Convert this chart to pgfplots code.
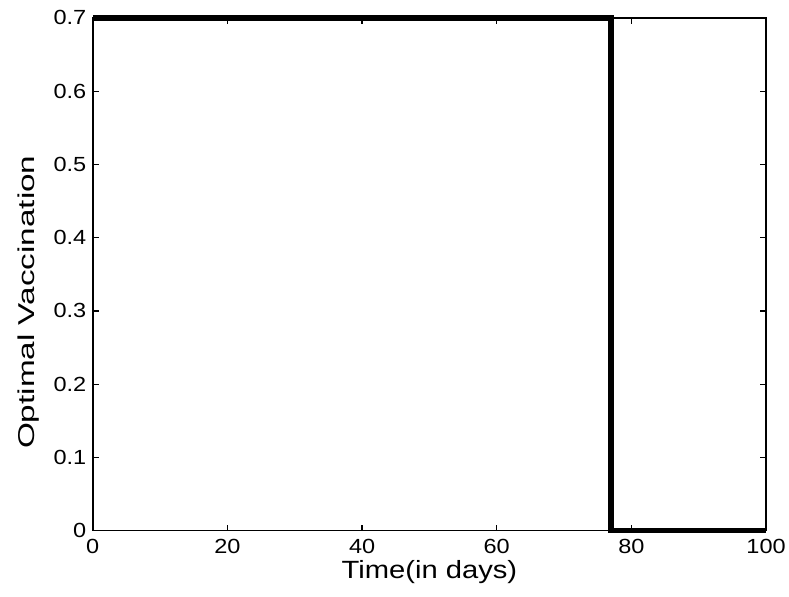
\documentclass[border=0pt]{standalone}
\usepackage{graphicx}
\usepackage{pgfplots}
\pgfplotsset{compat=1.18}
\usepackage{fontspec}
\setmainfont{Liberation Sans}
\newcommand\sx[1]{\scalebox{1.15}[1]{#1}}
\begin{document}
\begin{tikzpicture}
\begin{axis}[
  scale only axis, width=675pt, height=514pt,
  xmin=0, xmax=100, ymin=0, ymax=0.7,
  xtick={0,20,40,60,80,100},
  xticklabels={\sx{0},\sx{20},\sx{40},\sx{60},\sx{80},\sx{100}},
  ytick={0,0.1,0.2,0.3,0.4,0.5,0.6,0.7},
  yticklabels={\sx{0},\sx{0.1},\sx{0.2},\sx{0.3},\sx{0.4},\sx{0.5},\sx{0.6},\sx{0.7}},
  tick align=inside, major tick length=6pt,
  axis line style={line width=1.6pt},
  every tick/.style={black, line width=1.2pt},
  tick label style={font=\fontsize{20.5}{20.5}\selectfont},
  xticklabel style={yshift=-5pt},
  yticklabel style={xshift=-3pt},
  xlabel={\scalebox{1.17}[1]{Time(in days)}},
  ylabel={\scalebox{1.45}[1]{Optimal Vaccination}},
  xlabel style={font=\fontsize{25}{25}\selectfont, at={(axis description cs:0.5,-0.0934)}, anchor=base},
  ylabel style={font=\fontsize{23}{23}\selectfont, at={(axis description cs:-0.0948,0.4455)}, anchor=center},
  clip=false,
]
\addplot[black, line width=5.5pt] coordinates {(0,0.7) (77,0.7) (77,0) (100,0)};
\end{axis}
\path ([shift={(-93pt,-66pt)}]current axis.south west) rectangle ([shift={(22pt,18pt)}]current axis.north east);
\end{tikzpicture}
\end{document}
